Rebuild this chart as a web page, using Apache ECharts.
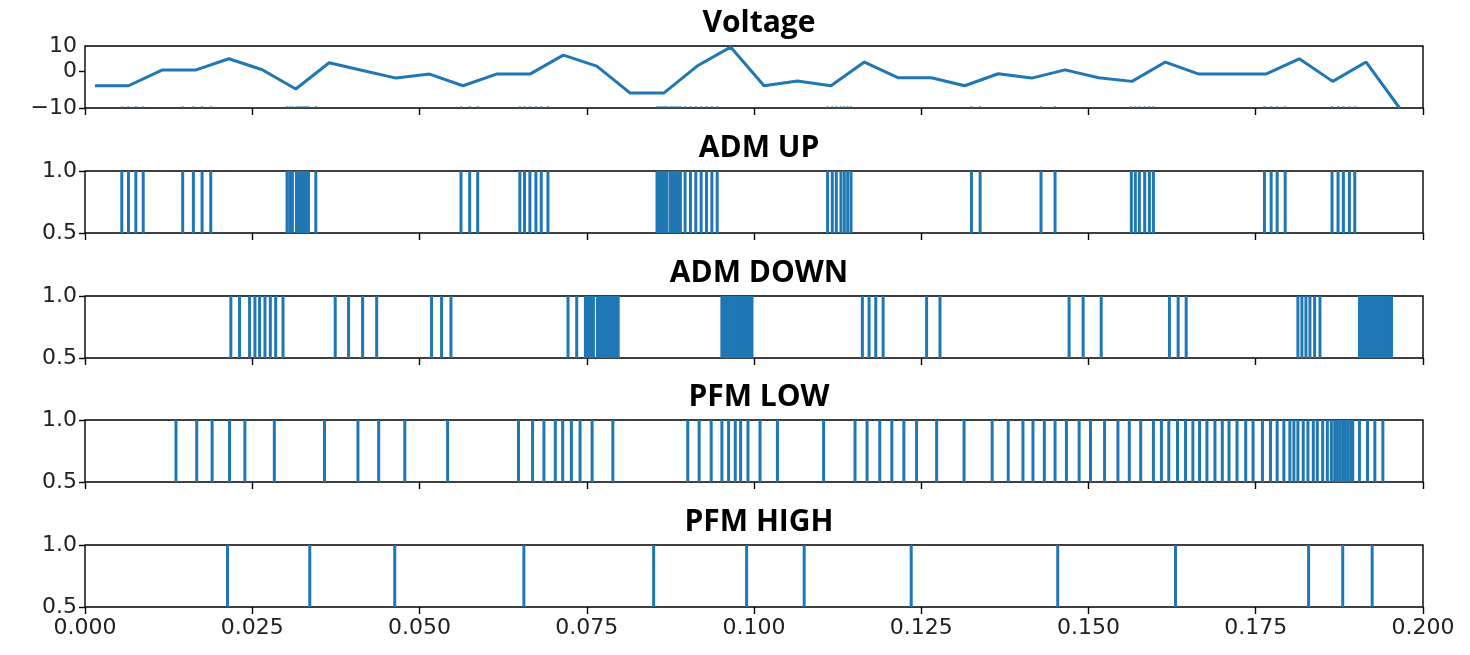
<!DOCTYPE html>
<html>
<head>
<meta charset="utf-8">
<script src="https://cdn.jsdelivr.net/npm/echarts@6/dist/echarts.min.js"></script>
<style>
  html, body { margin: 0; padding: 0; background: #fff; }
  #chart { width: 1470px; height: 655px; }
</style>
</head>
<body>
<div id="chart"></div>
<script>
// sample times (s) and voltage values
let voltTime = [0.0015, 0.0065, 0.0115, 0.0165, 0.0215, 0.0265, 0.0315, 0.0365, 0.0415, 0.0465,
                0.0515, 0.0565, 0.0615, 0.0665, 0.0715, 0.0765, 0.0815, 0.0865, 0.0915, 0.0965,
                0.1015, 0.1065, 0.1115, 0.1165, 0.1215, 0.1265, 0.1315, 0.1365, 0.1415, 0.1465,
                0.1515, 0.1565, 0.1615, 0.1665, 0.1715, 0.1765, 0.1815, 0.1865, 0.1915, 0.1965];
let voltValue = [-3.9, -3.9, 0.4, 0.4, 3.5, 0.5, -4.8, 2.4, 0.3, -1.8,
                 -0.7, -3.9, -0.7, -0.7, 4.5, 1.5, -5.9, -5.9, 1.5, 6.7,
                 -3.9, -2.6, -3.9, 2.6, -1.7, -1.7, -3.9, -0.6, -1.8, 0.45,
                 -1.7, -2.7, 2.6, -0.7, -0.7, -0.7, 3.5, -2.7, 2.6, -10];

// event times (s)
let admUp = [0.0055, 0.0065, 0.0076, 0.0087,
             0.0146, 0.0162, 0.0175, 0.0188,
             0.0302, 0.0306, 0.0310, 0.0316, 0.0319, 0.0322, 0.0325, 0.0328, 0.0331, 0.0334, 0.0345,
             0.0562, 0.0575, 0.0587,
             0.0650, 0.0657, 0.0665, 0.0674, 0.0682, 0.0692,
             0.0855, 0.0858, 0.0861, 0.0864, 0.0867, 0.0870,
             0.0875, 0.0878, 0.0881, 0.0884, 0.0887, 0.0890,
             0.0897, 0.0905, 0.0913, 0.0921, 0.0929, 0.0937, 0.0945,
             0.1110, 0.1117, 0.1123, 0.1130, 0.1135, 0.1140, 0.1145,
             0.1325, 0.1338,
             0.1429, 0.1450,
             0.1564, 0.1570, 0.1576, 0.1584, 0.1591, 0.1597,
             0.1763, 0.1773, 0.1782, 0.1794,
             0.1864, 0.1873, 0.1881, 0.1890, 0.1898];

let admDown = [0.0218, 0.0231, 0.0246, 0.0254, 0.0261, 0.0269, 0.0277, 0.0285, 0.0296,
               0.0374, 0.0394, 0.0415, 0.0436,
               0.0518, 0.0533, 0.0547,
               0.0722, 0.0735, 0.0748, 0.0751, 0.0754, 0.0757, 0.0760,
               0.0766, 0.0769, 0.0772, 0.0775, 0.0778, 0.0781, 0.0784,
               0.0788, 0.0791, 0.0794, 0.0797,
               0.0952, 0.0955, 0.0958, 0.0961, 0.0964, 0.0967, 0.0970, 0.0973,
               0.0976, 0.0979, 0.0982, 0.0985, 0.0988, 0.0991, 0.0994, 0.0997,
               0.1162, 0.1172, 0.1182, 0.1193,
               0.1258, 0.1278,
               0.1471, 0.1492, 0.1519,
               0.1621, 0.1634, 0.1646,
               0.1813, 0.1819, 0.1825, 0.1831, 0.1838, 0.1846,
               0.1905, 0.1908, 0.1911, 0.1914, 0.1917, 0.1920, 0.1923, 0.1926, 0.1929,
               0.1932, 0.1935, 0.1938, 0.1941, 0.1944, 0.1947, 0.1950, 0.1953];

let pfmLow = [0.0136, 0.0167, 0.0190, 0.0216, 0.0239, 0.0283, 0.0358, 0.0408, 0.0439, 0.0478,
              0.0542, 0.0648, 0.0669, 0.0686, 0.0703, 0.0714, 0.0727, 0.0740, 0.0758, 0.0789,
              0.0901, 0.0918, 0.0936, 0.0952, 0.0962, 0.0972, 0.0980, 0.0991, 0.1009, 0.1035,
              0.1104, 0.1151, 0.1169, 0.1188, 0.1206, 0.1224, 0.1243, 0.1273, 0.1314, 0.1356,
              0.1380, 0.1402, 0.1417, 0.1434, 0.1450, 0.1467, 0.1486, 0.1503, 0.1524, 0.1544,
              0.1561, 0.1578, 0.1597, 0.1609, 0.1620, 0.1633, 0.1645, 0.1656, 0.1666, 0.1677,
              0.1689, 0.1700, 0.1710, 0.1722, 0.1735, 0.1746, 0.1760, 0.1772, 0.1782, 0.1792,
              0.1801, 0.1807, 0.1813, 0.1821, 0.1828, 0.1836, 0.1842, 0.1850, 0.1857, 0.1863,
              0.1868, 0.1872, 0.1876, 0.1880, 0.1884, 0.1888, 0.1892, 0.1895,
              0.1905, 0.1917, 0.1928, 0.1940];

let pfmHigh = [0.0213, 0.0336, 0.0463, 0.0656, 0.0850, 0.0989, 0.1075, 0.1235, 0.1454,
               0.1630, 0.1829, 0.1880, 0.1924];

let titles = ["Voltage", "ADM UP", "ADM DOWN", "PFM LOW", "PFM HIGH"];
let xTicks = [0, 0.2, 0.025];
let voltTicks = [-10, 0, 7];   // top of range carries the "10" label as in the source
let eventTicks = [0.5, 1.0];

const blue = "#1f77b4";
const tickFont = "DejaVu Sans";
const tops = [46, 171, 296, 420, 545];

function fmtMinus(v) {
    return v < 0 ? "\u2212" + Math.abs(v) : String(v);
}

function eventSeries(times, idx) {
    return {
        type: "custom",
        xAxisIndex: idx,
        yAxisIndex: idx,
        encode: {x: 0},
        clip: true,
        renderItem: (params, api) => {
            let t = api.value(0);
            let a = api.coord([t, eventTicks[1]]);
            let b = api.coord([t, eventTicks[0]]);
            return {
                type: "line",
                shape: {x1: a[0], y1: a[1], x2: b[0], y2: b[1]},
                style: {stroke: blue, lineWidth: 3}
            };
        },
        data: times.map(t => [t])
    };
}

var myChart = echarts.init(document.getElementById("chart"));

let grids = tops.map(t => ({
    left: 85, right: 47, top: t, height: 62,
    show: true, borderColor: "#000", borderWidth: 1.4, backgroundColor: "transparent"
}));

let xAxes = tops.map((t, i) => ({
    type: "value",
    gridIndex: i,
    position: "bottom",
    min: xTicks[0],
    max: xTicks[1],
    interval: xTicks[2],
    axisLine: {show: false, onZero: false},
    axisTick: {show: true, length: 7, lineStyle: {color: "#000", width: 1.4}},
    splitLine: {show: false},
    axisLabel: {
        show: i === tops.length - 1,
        margin: 10,
        fontFamily: tickFont,
        fontSize: 22,
        color: "#222",
        formatter: v => v.toFixed(3)
    }
}));

let yAxes = tops.map((t, i) => {
    if (i === 0) {
        return {
            type: "value",
            gridIndex: 0,
            min: voltTicks[0],
            max: voltTicks[2],
            axisLine: {show: false, onZero: false},
            splitLine: {show: false},
            axisTick: {show: true, length: 6, customValues: [voltTicks[0], voltTicks[1]],
                       lineStyle: {color: "#000", width: 1.4}},
            axisLabel: {
                customValues: voltTicks,
                margin: 8,
                fontFamily: tickFont,
                fontSize: 22,
                color: "#222",
                formatter: v => v === voltTicks[2] ? "10" : fmtMinus(v)
            }
        };
    }
    return {
        type: "value",
        gridIndex: i,
        min: eventTicks[0],
        max: eventTicks[1],
        interval: 0.5,
        axisLine: {show: false, onZero: false},
        splitLine: {show: false},
        axisTick: {show: true, length: 6, lineStyle: {color: "#000", width: 1.4}},
        axisLabel: {
            margin: 8,
            fontFamily: tickFont,
            fontSize: 22,
            color: "#222",
            formatter: v => v.toFixed(1)
        }
    };
});

myChart.setOption({
    animation: false,
    title: titles.map((txt, i) => ({
        text: txt,
        left: 754,
        top: tops[i] - 28,
        textAlign: "center",
        textVerticalAlign: "middle",
        textStyle: {fontFamily: "Open Sans", fontWeight: "bold", fontSize: 30, color: "#000"}
    })),
    grid: grids,
    xAxis: xAxes,
    yAxis: yAxes,
    series: [
        {
            type: "line",
            xAxisIndex: 0,
            yAxisIndex: 0,
            showSymbol: false,
            lineStyle: {color: blue, width: 3},
            itemStyle: {color: blue},
            data: voltTime.map((t, k) => [t, voltValue[k]])
        },
        // faint ADM UP ticks along the bottom edge of the voltage panel
        {
            type: "custom",
            xAxisIndex: 0,
            yAxisIndex: 0,
            encode: {x: 0},
            renderItem: (params, api) => {
                let p = api.coord([api.value(0), voltTicks[0]]);
                return {
                    type: "line",
                    shape: {x1: p[0], y1: p[1] - 2, x2: p[0], y2: p[1]},
                    style: {stroke: blue, lineWidth: 2, opacity: 0.6}
                };
            },
            data: admUp.map(t => [t])
        },
        eventSeries(admUp, 1),
        eventSeries(admDown, 2),
        eventSeries(pfmLow, 3),
        eventSeries(pfmHigh, 4)
    ]
});
</script>
</body>
</html>
